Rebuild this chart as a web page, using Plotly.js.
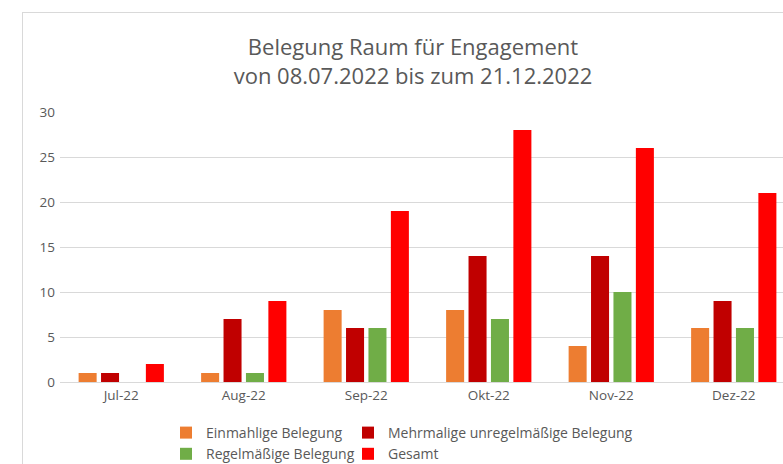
<!DOCTYPE html>
<html>
<head>
<meta charset="utf-8">
<script src="https://cdn.plot.ly/plotly-3.0.1.min.js"></script>
<style>
  html, body { margin: 0; padding: 0; background: #ffffff; overflow: hidden; }
  #frame { position: absolute; left: 22px; top: 12px; width: 820px; height: 520px; border: 1px solid #d9d9d9; box-sizing: border-box; }
  #chart { position: absolute; left: 0; top: 0; width: 783px; height: 464px; }
</style>
</head>
<body>
<div id="frame"></div>
<div id="chart"></div>
<script>
const categories = ['Jul-22', 'Aug-22', 'Sep-22', 'Okt-22', 'Nov-22', 'Dez-22'];
const einmahlig = [1, 1, 8, 8, 4, 6];
const mehrmalig = [1, 7, 6, 14, 14, 9];
const regelmaessig = [0, 1, 6, 7, 10, 6];
const gesamt = [2, 9, 19, 28, 26, 21];
const seriesNames = ['Einmahlige Belegung', 'Mehrmalige unregelmäßige Belegung', 'Regelmäßige Belegung', 'Gesamt'];
const yTicks = [0, 5, 10, 15, 20, 25, 30];

const FONT = 'Open Sans, Liberation Sans, sans-serif';
const GREY = '#595959';

function bar(name, y, color, legend) {
  return { type: 'bar', name: name, x: categories, y: y,
           marker: { color: color, line: { width: 0 } }, legend: legend,
           hoverinfo: 'x+y+name' };
}

const data = [
  bar(seriesNames[0], einmahlig, '#ED7D31', 'legend'),
  bar(seriesNames[1], mehrmalig, '#C00000', 'legend2'),
  bar(seriesNames[2], regelmaessig, '#70AD47', 'legend'),
  bar(seriesNames[3], gesamt, '#FF0000', 'legend2')
];

const legendCommon = {
  orientation: 'v', xref: 'container', yref: 'container',
  xanchor: 'left', yanchor: 'top', tracegroupgap: 0,
  font: { family: FONT, size: 14, color: GREY }, bgcolor: 'rgba(0,0,0,0)',
  itemclick: false, itemdoubleclick: false, traceorder: 'normal'
};

const layout = {
  width: 783, height: 464,
  margin: { l: 60, r: 0, t: 112, b: 82, pad: 0, autoexpand: false },
  paper_bgcolor: 'rgba(0,0,0,0)', plot_bgcolor: 'rgba(0,0,0,0)',
  font: { family: FONT, color: GREY },
  title: {
    text: 'Belegung Raum für Engagement<br>von 08.07.2022 bis zum 21.12.2022',
    font: { family: FONT, size: 22, color: GREY },
    xref: 'container', yref: 'container', x: 413 / 783, xanchor: 'center',
    y: 1 - 55 / 464, yanchor: 'middle'
  },
  barmode: 'group', bargap: 0.268, bargroupgap: 0.196,
  xaxis: {
    type: 'category', range: [-0.5, 5.402], fixedrange: true, automargin: false,
    showgrid: false, zeroline: false, showline: false, ticks: '', tickangle: 0,
    tickfont: { family: FONT, size: 13.5, color: GREY }, ticklabelstandoff: 3
  },
  yaxis: {
    range: [0, 30], tickvals: yTicks, ticktext: yTicks.map(String), fixedrange: true, automargin: false,
    showgrid: true, gridcolor: '#d9d9d9', gridwidth: 1,
    zeroline: true, zerolinecolor: '#d9d9d9', zerolinewidth: 1,
    showline: false, ticks: '', ticklabelstandoff: 4,
    tickfont: { family: FONT, size: 13.5, color: GREY }
  },
  showlegend: true,
  legend: Object.assign({}, legendCommon, { x: 166 / 783, y: 1 - 417 / 464 }),
  legend2: Object.assign({}, legendCommon, { x: 348 / 783, y: 1 - 417 / 464 })
};

Plotly.newPlot('chart', data, layout, { displayModeBar: false, responsive: false, staticPlot: true });
</script>
</body>
</html>
